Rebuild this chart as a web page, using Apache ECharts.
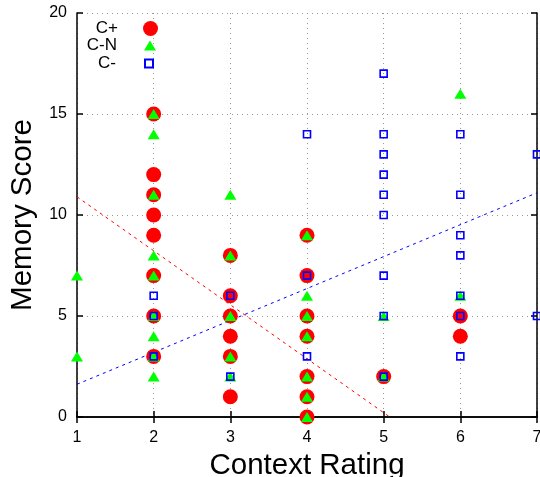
<!DOCTYPE html>
<html>
<head>
<meta charset="utf-8">
<script src="https://cdn.jsdelivr.net/npm/echarts@6/dist/echarts.min.js"></script>
<style>
html,body{margin:0;padding:0;background:#fff;}
#chart{width:540px;height:477px;}
</style>
</head>
<body>
<div id="chart"></div>
<script>
// Data (Context Rating, Memory Score)
var cPlus = [[2,15],[2,12],[2,11],[2,10],[2,9],[2,7],[2,5],[2,3],
  [3,8],[3,6],[3,5],[3,4],[3,3],[3,1],
  [4,9],[4,7],[4,5],[4,4],[4,2],[4,1],[4,0],
  [5,2],[6,5],[6,4]];
var cMinusN = [[1,7],[1,3],
  [2,15],[2,14],[2,11],[2,8],[2,7],[2,5],[2,4],[2,3],[2,2],
  [3,11],[3,8],[3,5],[3,3],[3,2],
  [4,9],[4,6],[4,5],[4,4],[4,2],[4,1],[4,0],
  [5,5],[5,2],[6,16],[6,6]];
var cMinus = [[2,6],[2,5],[2,3],
  [3,6],[3,2],
  [4,14],[4,7],[4,3],
  [5,17],[5,14],[5,13],[5,12],[5,11],[5,10],[5,7],[5,5],[5,2],
  [6,14],[6,11],[6,9],[6,8],[6,6],[6,5],[6,3],
  [7,13],[7,5]];
var fitPlus = [[1,10.9],[5.08,0]];
var fitMinus = [[1,1.62],[7,11.1]];
var xTicks = [1,2,3,4,5,6,7];
var yTicks = [0,5,10,15,20];

var FONT = 'Liberation Sans';
var chart = echarts.init(document.getElementById('chart'));
var gridLine = {show:true, lineStyle:{color:'#999', width:1, type:[1,4]}};
function legendFor(name, iw, ih, top, right, pad){
  return {data:[name], orient:'vertical', align:'right', right:right, top:top,
    padding:0, itemWidth:iw, itemHeight:ih,
    textStyle:{fontFamily:FONT, fontSize:17, color:'#000', padding:[0,pad,0,0]}};
}
chart.setOption({
  animation:false,
  backgroundColor:'#fff',
  grid:{left:77, right:3, top:13, bottom:60, containLabel:false, outerBoundsMode:'none'},
  legend:[legendFor('C+',15,15,20,382,20),
          legendFor('C-N',12,10,37,384,22),
          legendFor('C-',8,8,55,386,24)],
  xAxis:[{type:'value', min:xTicks[0], max:xTicks[xTicks.length-1], interval:1,
      name:'Context Rating', nameLocation:'middle', nameGap:34,
      nameTextStyle:{fontFamily:FONT, fontSize:29.5, color:'#000'},
      axisLine:{show:true, lineStyle:{color:'#000', width:1.5}},
      axisTick:{show:true, inside:true, length:6, lineStyle:{color:'#000', width:1.5}},
      axisLabel:{fontFamily:FONT, fontSize:16, color:'#000', margin:13},
      splitLine:gridLine},
    {type:'value', position:'top', min:xTicks[0], max:xTicks[xTicks.length-1], interval:1,
      axisLine:{show:true, lineStyle:{color:'#000', width:1.5}},
      axisTick:{show:true, inside:true, length:6, lineStyle:{color:'#000', width:1.5}},
      axisLabel:{show:false}, splitLine:{show:false}}],
  yAxis:[{type:'value', min:yTicks[0], max:yTicks[yTicks.length-1], interval:5,
      name:'Memory Score', nameLocation:'middle', nameGap:38,
      nameTextStyle:{fontFamily:FONT, fontSize:29.5, color:'#000'},
      axisLine:{show:true, lineStyle:{color:'#000', width:1.5}},
      axisTick:{show:true, inside:true, length:6, lineStyle:{color:'#000', width:1.5}},
      axisLabel:{fontFamily:FONT, fontSize:16, color:'#000', margin:10},
      splitLine:gridLine},
    {type:'value', position:'right', min:yTicks[0], max:yTicks[yTicks.length-1], interval:5,
      axisLine:{show:true, lineStyle:{color:'#000', width:1.5}},
      axisTick:{show:true, inside:true, length:6, lineStyle:{color:'#000', width:1.5}},
      axisLabel:{show:false}, splitLine:{show:false}}],
  series:[
    {name:'fit+', type:'line', data:fitPlus, symbol:'none', silent:true,
      lineStyle:{color:'#ff0000', width:1, type:[3,4]}, z:1},
    {name:'fit-', type:'line', data:fitMinus, symbol:'none', silent:true,
      lineStyle:{color:'#0000ff', width:1, type:[3,4]}, z:1},
    {name:'C+', type:'scatter', data:cPlus, symbol:'circle', symbolSize:15, clip:false,
      itemStyle:{color:'#ff0000', opacity:1}, z:2},
    {name:'C-N', type:'scatter', data:cMinusN, symbol:'triangle', symbolSize:[12,10], clip:false,
      itemStyle:{color:'#00ff00', opacity:1}, z:3},
    {name:'C-', type:'scatter', data:cMinus, symbol:'rect', symbolSize:7, clip:false,
      itemStyle:{color:'rgba(0,0,0,0)', borderColor:'#0000ff', borderWidth:1.6, opacity:1}, z:4}
  ]
});
</script>
</body>
</html>
